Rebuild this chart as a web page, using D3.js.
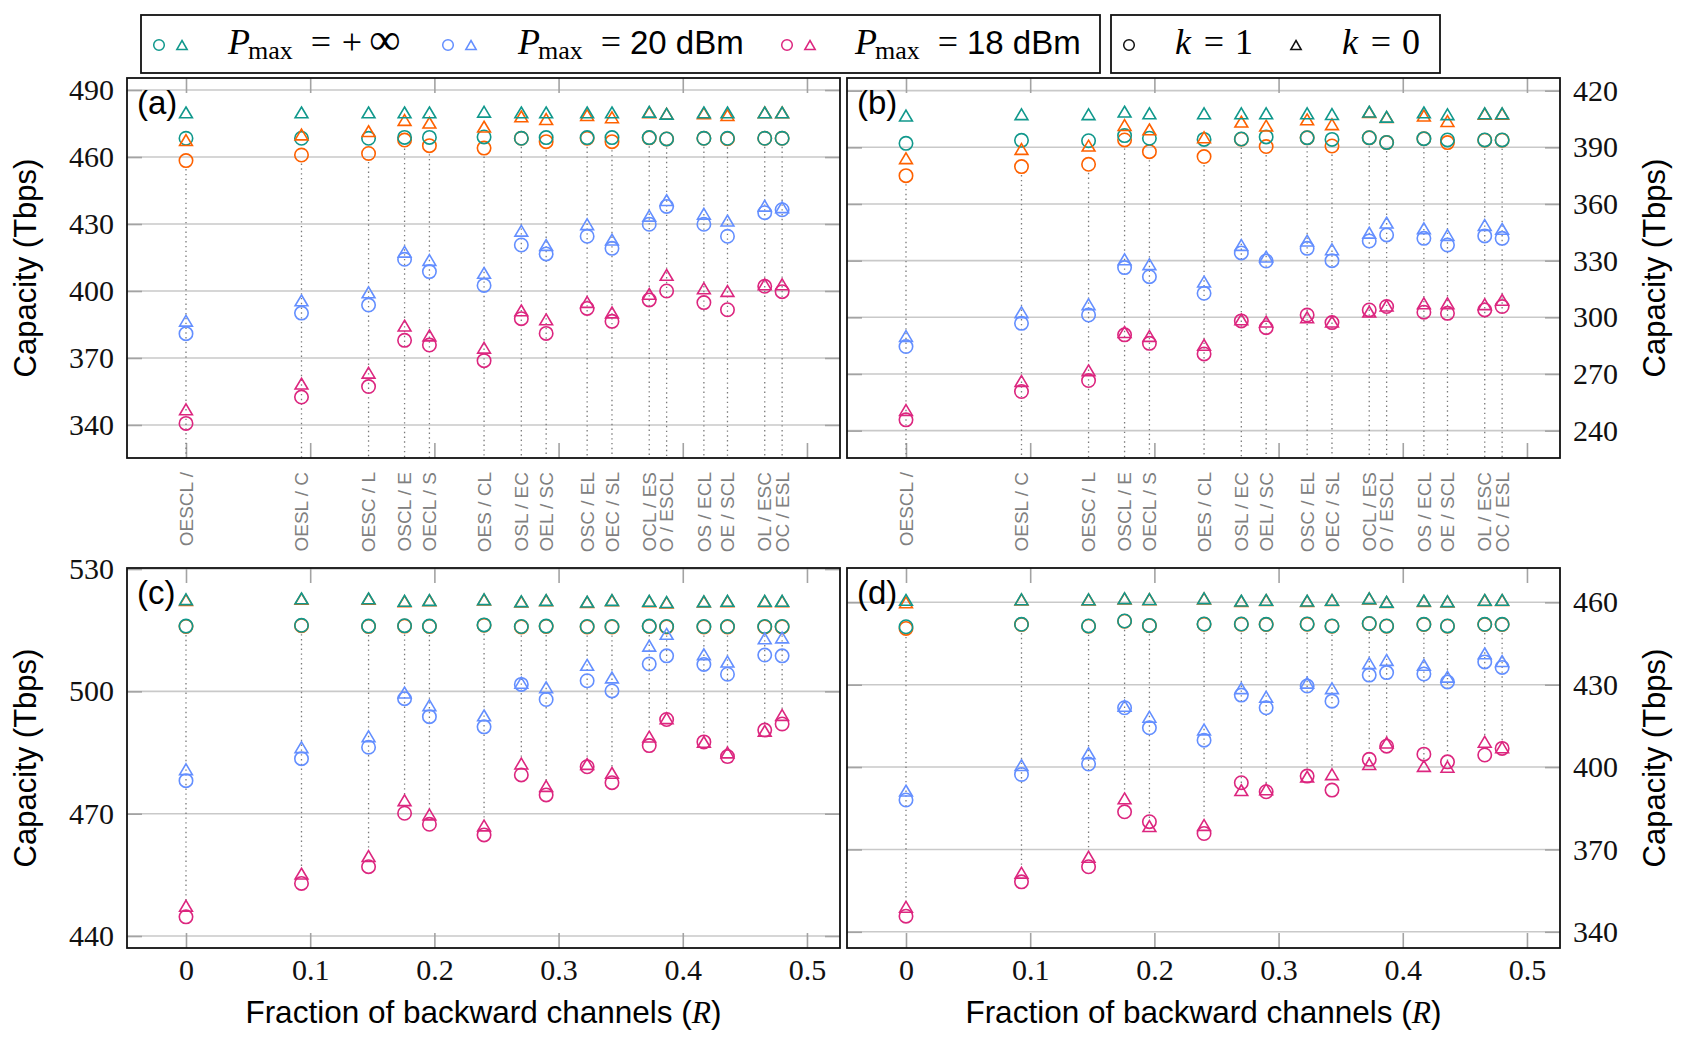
<!DOCTYPE html>
<html>
<head>
<meta charset="utf-8">
<script src="https://cdn.jsdelivr.net/npm/d3@7"></script>
<style>
  body { margin: 0; background: #fff; }
  svg { display: block; }
  .serif { font-family: "Liberation Serif", "Times New Roman", "DejaVu Serif", serif; }
</style>
</head>
<body>
<svg id="chart" width="1687" height="1045"></svg>
<script>
// band splits (forward / backward) and their fraction of backward channels
const R = [0, 0.093, 0.147, 0.176, 0.196, 0.240, 0.270, 0.290, 0.323, 0.343, 0.373, 0.387, 0.417, 0.436, 0.466, 0.480];
const splits = ['OESCL /', 'OESL / C', 'OESC / L', 'OSCL / E', 'OECL / S', 'OES / CL', 'OSL / EC', 'OEL / SC',
                'OSC / EL', 'OEC / SL', 'OCL / ES', 'O / ESCL', 'OS / ECL', 'OE / SCL', 'OL / ESC', 'OC / ESL'];

const xTicks = [0, 0.1, 0.2, 0.3, 0.4, 0.5];
const xTickLabels = ['0', '0.1', '0.2', '0.3', '0.4', '0.5'];
const yTicksA = [340, 370, 400, 430, 460, 490];
const yTicksB = [240, 270, 300, 330, 360, 390, 420];
const yTicksC = [440, 470, 500, 530];
const yTicksD = [340, 370, 400, 430, 460];

// panel (a)
const a_inf_k0 = [480.0, 480.0, 480.0, 480.0, 480.0, 480.3, 480.0, 480.0, 480.0, 480.0, 480.3, 479.4, 480.0, 480.0, 480.0, 480.0];
const a_inf_k1 = [468.4, 468.4, 468.4, 468.8, 468.8, 469.0, 468.4, 468.7, 468.7, 468.7, 468.7, 468.1, 468.4, 468.4, 468.4, 468.4];
const a_or_k0  = [467.6, 470.1, 471.6, 476.6, 475.4, 473.6, 478.2, 477.0, 478.8, 477.8, 480.0, 479.4, 479.6, 478.8, 480.0, 480.0];
const a_or_k1  = [458.4, 460.9, 461.6, 467.6, 465.1, 464.0, 468.4, 466.9, 468.4, 466.9, 468.6, 468.1, 468.4, 468.2, 468.4, 468.4];
const a_20_k0  = [386.7, 395.8, 399.4, 417.6, 413.9, 408.1, 427.0, 420.6, 429.9, 423.0, 433.7, 440.7, 434.6, 431.5, 438.2, 437.5];
const a_20_k1  = [380.9, 390.1, 393.7, 414.2, 408.7, 402.5, 420.6, 416.6, 424.5, 419.1, 429.9, 437.9, 429.9, 424.5, 435.1, 436.4];
const a_18_k0  = [347.0, 358.5, 363.4, 384.5, 380.1, 374.6, 391.3, 387.3, 395.1, 390.4, 398.7, 407.2, 401.2, 400.0, 403.0, 403.0];
const a_18_k1  = [340.7, 352.5, 357.2, 377.9, 375.8, 368.8, 387.6, 381.0, 392.2, 386.4, 396.0, 400.0, 394.8, 391.6, 402.1, 399.7];

// panel (b)
const b_inf_k0 = [406.8, 407.5, 407.5, 408.9, 408.0, 408.0, 408.0, 408.0, 408.0, 407.6, 408.9, 406.2, 408.5, 407.5, 408.0, 408.0];
const b_inf_k1 = [392.1, 393.7, 393.5, 396.2, 394.8, 394.2, 394.4, 395.5, 395.1, 394.2, 395.1, 392.6, 394.6, 393.9, 393.9, 393.9];
const b_or_k0  = [384.2, 389.1, 390.9, 401.8, 399.5, 395.3, 403.6, 401.5, 404.8, 402.2, 408.7, 406.0, 406.8, 403.9, 407.8, 407.8];
const b_or_k1  = [375.0, 379.8, 381.0, 393.9, 387.7, 385.1, 394.3, 390.4, 395.0, 390.7, 395.0, 392.5, 394.5, 392.5, 393.8, 393.8];
const b_20_k0  = [290.1, 302.7, 306.9, 330.7, 328.1, 318.9, 338.3, 332.1, 340.6, 336.0, 344.8, 350.1, 347.1, 343.6, 348.9, 346.8];
const b_20_k1  = [284.5, 296.8, 301.2, 326.3, 321.5, 312.7, 334.1, 329.8, 336.5, 330.0, 340.4, 343.6, 341.8, 338.3, 343.1, 341.8];
const b_18_k0  = [250.9, 266.3, 271.9, 292.2, 290.1, 285.4, 298.9, 297.7, 300.0, 297.7, 303.0, 306.2, 307.4, 307.4, 306.9, 309.2];
const b_18_k1  = [245.7, 260.7, 266.5, 290.7, 286.2, 280.6, 298.1, 294.5, 301.2, 297.2, 303.9, 305.7, 302.7, 302.1, 303.9, 305.7];

// panel (c)
const c_inf_k0 = [522.6, 522.8, 522.8, 522.2, 522.4, 522.6, 522.1, 522.4, 522.0, 522.4, 522.2, 521.9, 522.1, 522.2, 522.2, 522.2];
const c_inf_k1 = [516.0, 516.2, 516.0, 516.1, 516.0, 516.3, 515.9, 516.0, 515.9, 515.9, 516.0, 515.9, 515.9, 515.9, 515.9, 515.9];
const c_or_k0  = [522.4, 522.7, 522.7, 522.1, 522.3, 522.5, 522.0, 522.3, 521.9, 522.3, 522.1, 521.8, 522.0, 522.1, 522.1, 522.1];
const c_or_k1  = [515.9, 516.1, 515.9, 516.0, 515.9, 516.2, 515.8, 515.9, 515.8, 515.8, 515.9, 515.8, 515.8, 515.8, 515.8, 515.8];
const c_20_k0  = [480.9, 486.3, 489.0, 499.7, 496.6, 494.1, 502.1, 501.0, 506.5, 503.4, 511.2, 514.1, 509.1, 507.3, 513.0, 513.2];
const c_20_k1  = [478.1, 483.5, 486.3, 498.2, 493.8, 491.3, 501.7, 498.0, 502.6, 500.1, 506.7, 508.7, 506.6, 504.2, 508.9, 508.7];
const c_18_k0  = [447.4, 455.3, 459.6, 473.3, 469.8, 467.1, 482.3, 476.8, 482.2, 480.0, 488.9, 493.4, 487.6, 485.0, 490.3, 494.2];
const c_18_k1  = [444.7, 452.9, 457.0, 470.1, 467.4, 464.8, 479.5, 474.6, 481.5, 477.6, 486.7, 493.1, 487.6, 484.0, 490.5, 492.0];

// panel (d)
const d_inf_k0 = [460.9, 461.1, 461.1, 461.5, 461.2, 461.5, 460.6, 460.9, 460.6, 460.9, 461.5, 460.2, 460.6, 460.4, 460.9, 460.9];
const d_inf_k1 = [451.1, 452.0, 451.4, 453.2, 451.6, 452.1, 452.1, 452.0, 452.1, 451.4, 452.3, 451.4, 452.0, 451.4, 452.0, 452.0];
const d_or_k0  = [460.0, 461.0, 461.0, 461.4, 461.1, 461.4, 460.5, 460.8, 460.5, 460.8, 461.4, 460.1, 460.5, 460.3, 460.8, 460.8];
const d_or_k1  = [450.5, 451.9, 451.3, 453.1, 451.5, 452.0, 452.0, 451.9, 452.0, 451.3, 452.2, 451.3, 451.9, 451.3, 451.9, 451.9];
const d_20_k0  = [391.4, 400.7, 405.0, 422.3, 418.3, 413.7, 428.7, 425.6, 430.7, 428.7, 437.8, 439.0, 437.2, 432.9, 441.4, 438.6];
const d_20_k1  = [388.0, 397.3, 401.1, 421.6, 414.3, 409.8, 426.2, 421.6, 429.5, 424.0, 433.5, 434.4, 433.9, 431.0, 438.3, 436.3];
const d_18_k0  = [349.1, 361.5, 367.3, 388.6, 378.5, 378.9, 391.6, 391.9, 396.5, 397.4, 401.1, 408.9, 400.4, 400.1, 409.2, 407.2];
const d_18_k1  = [345.7, 358.2, 363.7, 383.7, 380.1, 375.8, 394.3, 391.0, 396.7, 391.6, 402.8, 407.6, 404.7, 401.9, 404.4, 406.8];

const teal = '#10988c', blue = '#648fff', pink = '#dc267f', orange = '#fe6100';
const sans = "'Liberation Sans', Arial, sans-serif";

window.addEventListener('load', () => {
    const svg = d3.select('#chart');
    const xDomain = [-0.0475, 0.5266];
    const tri = 'M0,-5.4L6.4,5.4L-6.4,5.4Z';

    const panels = [
        {name: '(a)', x0: 127, x1: 840, y0: 78, y1: 458, ydom: [325.2, 495.4], yticks: yTicksA, right: false, toAxis: true, bottom: false,
         series: [[pink, a_18_k1, a_18_k0], [blue, a_20_k1, a_20_k0], [orange, a_or_k1, a_or_k0], [teal, a_inf_k1, a_inf_k0]]},
        {name: '(b)', x0: 847, x1: 1560, y0: 78, y1: 458, ydom: [225.5, 426.7], yticks: yTicksB, right: true, toAxis: true, bottom: false,
         series: [[pink, b_18_k1, b_18_k0], [blue, b_20_k1, b_20_k0], [orange, b_or_k1, b_or_k0], [teal, b_inf_k1, b_inf_k0]]},
        {name: '(c)', x0: 127, x1: 840, y0: 568, y1: 948, ydom: [437.06, 530.25], yticks: yTicksC, right: false, toAxis: false, bottom: true,
         series: [[pink, c_18_k1, c_18_k0], [blue, c_20_k1, c_20_k0], [orange, c_or_k1, c_or_k0], [teal, c_inf_k1, c_inf_k0]]},
        {name: '(d)', x0: 847, x1: 1560, y0: 568, y1: 948, ydom: [334.1, 472.5], yticks: yTicksD, right: true, toAxis: false, bottom: true,
         series: [[pink, d_18_k1, d_18_k0], [blue, d_20_k1, d_20_k0], [orange, d_or_k1, d_or_k0], [teal, d_inf_k1, d_inf_k0]]}
    ];

    panels.forEach(p => {
        const x = d3.scaleLinear().domain(xDomain).range([p.x0, p.x1]);
        const y = d3.scaleLinear().domain(p.ydom).range([p.y1, p.y0]);
        const g = svg.append('g');

        // horizontal grid
        g.append('g').selectAll('line').data(p.yticks).join('line')
            .attr('x1', p.x0).attr('x2', p.x1)
            .attr('y1', d => y(d)).attr('y2', d => y(d))
            .attr('stroke', '#c9c9c9').attr('stroke-width', 1.6);

        // ticks (inner) on all four sides
        const ticks = (axis, tx, ty, labels) => {
            const a = g.append('g').attr('transform', `translate(${tx},${ty})`).call(axis);
            a.select('.domain').remove();
            a.selectAll('.tick line').attr('stroke', '#a3a3a3').attr('stroke-width', 1.6);
            a.attr('font-family', null).attr('font-size', 30).attr('class', 'serif');
            a.selectAll('.tick text').attr('fill', '#111');
            if (!labels) a.selectAll('.tick text').remove();
            return a;
        };
        ticks(d3.axisLeft(y).tickValues(p.yticks).tickSize(-15).tickPadding(13), p.x0, 0, !p.right);
        ticks(d3.axisRight(y).tickValues(p.yticks).tickSize(-15).tickPadding(13), p.x1, 0, p.right);
        ticks(d3.axisTop(x).tickValues(xTicks).tickSize(-15), 0, p.y0, false);
        ticks(d3.axisBottom(x).tickValues(xTicks).tickSize(-15).tickPadding(11)
            .tickFormat((d, i) => xTickLabels[i]), 0, p.y1, p.bottom);

        // dotted guides for every split
        const top = R.map((r, i) => Math.min(p.series[2][1][i], p.series[3][1][i]));
        g.append('g').selectAll('line').data(R).join('line')
            .attr('x1', d => x(d)).attr('x2', d => x(d))
            .attr('y1', (d, i) => y(top[i]) + 8.5)
            .attr('y2', (d, i) => p.toAxis ? p.y1 : y(p.series[0][2][i]) - 5)
            .attr('stroke', '#7a7a7a').attr('stroke-width', 1.3)
            .attr('stroke-dasharray', '1.4,3.4');

        // k = 1 (circles) first, then k = 0 (triangles)
        p.series.forEach(([col, k1]) => {
            g.append('g').selectAll('circle').data(k1).join('circle')
                .attr('cx', (d, i) => x(R[i])).attr('cy', d => y(d)).attr('r', 6.7)
                .attr('fill', 'none').attr('stroke', col).attr('stroke-width', 1.6);
        });
        p.series.forEach(([col, k1, k0]) => {
            g.append('g').selectAll('path').data(k0).join('path')
                .attr('transform', (d, i) => `translate(${x(R[i])},${y(d)})`)
                .attr('d', tri)
                .attr('fill', 'none').attr('stroke', col).attr('stroke-width', 1.6);
        });

        // frame
        g.append('rect').attr('x', p.x0).attr('y', p.y0)
            .attr('width', p.x1 - p.x0).attr('height', p.y1 - p.y0)
            .attr('fill', 'none').attr('stroke', '#111').attr('stroke-width', 1.8);

        g.append('text').attr('x', p.x0 + 10).attr('y', p.y0 + 36)
            .attr('font-family', sans).attr('font-size', 33).text(p.name);

        // y title
        const cy = (p.y0 + p.y1) / 2;
        g.append('text')
            .attr('transform', `translate(${p.right ? 1665 : 36},${cy}) rotate(-90)`)
            .attr('text-anchor', 'middle').attr('font-family', sans).attr('font-size', 31)
            .text('Capacity (Tbps)');

        if (p.bottom) {
            const t = g.append('text').attr('x', (p.x0 + p.x1) / 2).attr('y', 1023)
                .attr('text-anchor', 'middle').attr('font-family', sans).attr('font-size', 31.5);
            t.append('tspan').text('Fraction of backward channels (');
            t.append('tspan').attr('class', 'serif').attr('font-style', 'italic').text('R');
            t.append('tspan').text(')');
        } else {
            g.append('g').selectAll('text').data(splits).join('text')
                .attr('transform', (d, i) => `translate(${x(R[i])},472) rotate(-90)`)
                .attr('text-anchor', 'end').attr('dy', '0.35em')
                .attr('font-family', sans).attr('font-size', 19).attr('fill', '#808080')
                .text(d => d);
        }
    });

    // legend
    const leg = svg.append('g');
    leg.append('rect').attr('x', 141).attr('y', 15).attr('width', 959).attr('height', 58)
        .attr('fill', '#fff').attr('stroke', '#111').attr('stroke-width', 1.8);
    leg.append('rect').attr('x', 1111).attr('y', 15).attr('width', 329).attr('height', 58)
        .attr('fill', '#fff').attr('stroke', '#111').attr('stroke-width', 1.8);

    const legTri = 'M0,-4.5L5.2,4.5L-5.2,4.5Z';
    const marks = (cx, col, shape) => {
        if (shape !== 'tri') leg.append('circle').attr('cx', cx).attr('cy', 45).attr('r', 5.3)
            .attr('fill', 'none').attr('stroke', col).attr('stroke-width', 1.5);
        if (shape !== 'circ') leg.append('path').attr('d', legTri)
            .attr('transform', `translate(${shape === 'tri' ? cx : cx + 23},45)`)
            .attr('fill', 'none').attr('stroke', col).attr('stroke-width', 1.5);
    };
    const base = 54;
    const serifText = (tx, ty, size, txt, italic, anchor) => leg.append('text')
        .attr('class', 'serif').attr('x', tx).attr('y', ty).attr('font-size', size)
        .attr('font-style', italic ? 'italic' : null).attr('text-anchor', anchor || 'start').text(txt);

    const pmax = (tx, val, valSans) => {
        serifText(tx, base, 36, 'P', true);
        serifText(tx + 20, base + 5, 26, 'max');
        serifText(tx + 93, base, 36, '=', false, 'middle');
        if (valSans) {
            leg.append('text').attr('x', tx + 112).attr('y', base).attr('font-family', sans)
                .attr('font-size', 33).text(val);
        } else {
            serifText(tx + 124, base, 36, '+', false, 'middle');
            serifText(tx + 157, base, 44, '∞', false, 'middle');
        }
    };
    marks(159, teal); pmax(228, '+∞', false);
    marks(448, blue); pmax(518, '20 dBm', true);
    marks(787, pink); pmax(855, '18 dBm', true);

    const kItem = (cx, shape, tx, v) => {
        marks(cx, '#111', shape);
        serifText(tx, base, 36, 'k', true);
        serifText(tx + 39, base, 36, '=', false, 'middle');
        serifText(tx + 69, base, 36, v, false, 'middle');
    };
    kItem(1129, 'circ', 1175, '1');
    kItem(1296, 'tri', 1342, '0');
});
</script>
</body>
</html>
